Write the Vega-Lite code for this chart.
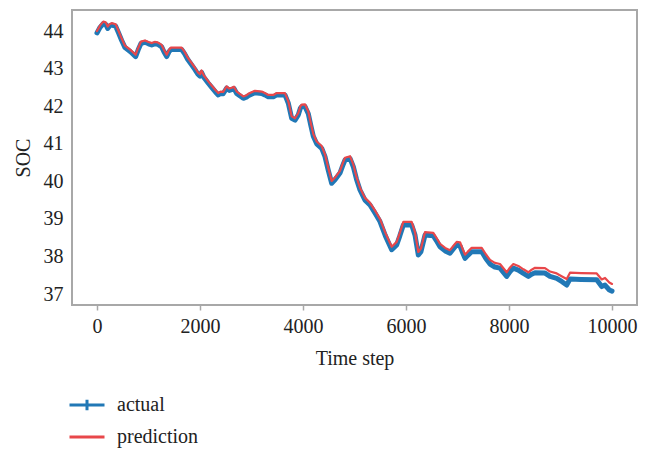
{
  "$schema": "https://vega.github.io/schema/vega-lite/v6.json",
  "width": 565,
  "height": 295,
  "autosize": {"type": "none"},
  "padding": {"left": 72, "top": 10, "right": 9, "bottom": 146},
  "background": "white",
  "config": {
    "view": {"stroke": "#a8a8a8", "strokeWidth": 2},
    "font": "Liberation Serif",
    "axis": {"labelFont": "Liberation Serif", "titleFont": "Liberation Serif", "labelColor": "#222", "titleColor": "#222", "labelFontSize": 20, "titleFontSize": 20, "titleFontWeight": "normal", "grid": false, "domain": false}
  },
  "data": {"values": [
    {"t":0,"actual":43.95,"prediction":44.0},
    {"t":60,"actual":44.1,"prediction":44.15},
    {"t":122,"actual":44.2,"prediction":44.25},
    {"t":170,"actual":44.18,"prediction":44.23},
    {"t":208,"actual":44.07,"prediction":44.12},
    {"t":250,"actual":44.14,"prediction":44.19},
    {"t":285,"actual":44.16,"prediction":44.21},
    {"t":363,"actual":44.13,"prediction":44.18},
    {"t":420,"actual":43.95,"prediction":44.0},
    {"t":480,"actual":43.75,"prediction":43.8},
    {"t":544,"actual":43.56,"prediction":43.61},
    {"t":650,"actual":43.45,"prediction":43.5},
    {"t":751,"actual":43.32,"prediction":43.37},
    {"t":800,"actual":43.5,"prediction":43.55},
    {"t":854,"actual":43.67,"prediction":43.72},
    {"t":932,"actual":43.7,"prediction":43.75},
    {"t":1000,"actual":43.66,"prediction":43.71},
    {"t":1062,"actual":43.63,"prediction":43.68},
    {"t":1120,"actual":43.66,"prediction":43.71},
    {"t":1178,"actual":43.65,"prediction":43.7},
    {"t":1256,"actual":43.58,"prediction":43.63},
    {"t":1300,"actual":43.45,"prediction":43.5},
    {"t":1353,"actual":43.32,"prediction":43.37},
    {"t":1400,"actual":43.45,"prediction":43.5},
    {"t":1437,"actual":43.51,"prediction":43.56},
    {"t":1644,"actual":43.51,"prediction":43.56},
    {"t":1700,"actual":43.4,"prediction":43.45},
    {"t":1760,"actual":43.25,"prediction":43.3},
    {"t":1838,"actual":43.1,"prediction":43.15},
    {"t":1900,"actual":42.98,"prediction":43.03},
    {"t":1960,"actual":42.85,"prediction":42.9},
    {"t":2000,"actual":42.8,"prediction":42.85},
    {"t":2030,"actual":42.9,"prediction":42.95},
    {"t":2070,"actual":42.78,"prediction":42.83},
    {"t":2162,"actual":42.61,"prediction":42.66},
    {"t":2227,"actual":42.5,"prediction":42.55},
    {"t":2300,"actual":42.38,"prediction":42.43},
    {"t":2355,"actual":42.3,"prediction":42.35},
    {"t":2400,"actual":42.34,"prediction":42.39},
    {"t":2450,"actual":42.33,"prediction":42.38},
    {"t":2518,"actual":42.48,"prediction":42.53},
    {"t":2570,"actual":42.42,"prediction":42.47},
    {"t":2615,"actual":42.44,"prediction":42.49},
    {"t":2660,"actual":42.47,"prediction":42.52},
    {"t":2713,"actual":42.34,"prediction":42.39},
    {"t":2780,"actual":42.27,"prediction":42.32},
    {"t":2841,"actual":42.21,"prediction":42.26},
    {"t":2900,"actual":42.24,"prediction":42.29},
    {"t":2938,"actual":42.28,"prediction":42.33},
    {"t":3000,"actual":42.32,"prediction":42.37},
    {"t":3068,"actual":42.36,"prediction":42.41},
    {"t":3198,"actual":42.34,"prediction":42.39},
    {"t":3260,"actual":42.3,"prediction":42.35},
    {"t":3326,"actual":42.25,"prediction":42.3},
    {"t":3424,"actual":42.25,"prediction":42.3},
    {"t":3489,"actual":42.3,"prediction":42.35},
    {"t":3650,"actual":42.3,"prediction":42.35},
    {"t":3715,"actual":42.08,"prediction":42.13},
    {"t":3780,"actual":41.68,"prediction":41.73},
    {"t":3845,"actual":41.63,"prediction":41.68},
    {"t":3909,"actual":41.77,"prediction":41.82},
    {"t":3950,"actual":41.95,"prediction":42.0},
    {"t":3975,"actual":41.99,"prediction":42.04},
    {"t":4039,"actual":41.99,"prediction":42.05},
    {"t":4103,"actual":41.8,"prediction":41.86},
    {"t":4150,"actual":41.5,"prediction":41.56},
    {"t":4200,"actual":41.2,"prediction":41.26},
    {"t":4266,"actual":41.0,"prediction":41.06},
    {"t":4363,"actual":40.88,"prediction":40.94},
    {"t":4427,"actual":40.66,"prediction":40.72},
    {"t":4490,"actual":40.3,"prediction":40.36},
    {"t":4557,"actual":39.95,"prediction":40.01},
    {"t":4621,"actual":40.04,"prediction":40.1},
    {"t":4718,"actual":40.22,"prediction":40.28},
    {"t":4780,"actual":40.45,"prediction":40.51},
    {"t":4816,"actual":40.57,"prediction":40.63},
    {"t":4913,"actual":40.61,"prediction":40.67},
    {"t":4977,"actual":40.39,"prediction":40.45},
    {"t":5040,"actual":40.05,"prediction":40.11},
    {"t":5107,"actual":39.77,"prediction":39.83},
    {"t":5204,"actual":39.5,"prediction":39.56},
    {"t":5301,"actual":39.37,"prediction":39.43},
    {"t":5400,"actual":39.15,"prediction":39.22},
    {"t":5495,"actual":38.93,"prediction":39.0},
    {"t":5600,"actual":38.55,"prediction":38.63},
    {"t":5722,"actual":38.18,"prediction":38.26},
    {"t":5819,"actual":38.31,"prediction":38.39},
    {"t":5880,"actual":38.55,"prediction":38.63},
    {"t":5948,"actual":38.84,"prediction":38.92},
    {"t":6110,"actual":38.84,"prediction":38.92},
    {"t":6175,"actual":38.57,"prediction":38.65},
    {"t":6239,"actual":38.04,"prediction":38.12},
    {"t":6290,"actual":38.13,"prediction":38.21},
    {"t":6369,"actual":38.57,"prediction":38.65},
    {"t":6530,"actual":38.55,"prediction":38.63},
    {"t":6600,"actual":38.4,"prediction":38.48},
    {"t":6660,"actual":38.26,"prediction":38.34},
    {"t":6760,"actual":38.15,"prediction":38.23},
    {"t":6854,"actual":38.09,"prediction":38.17},
    {"t":6930,"actual":38.22,"prediction":38.3},
    {"t":6984,"actual":38.31,"prediction":38.39},
    {"t":7049,"actual":38.28,"prediction":38.38},
    {"t":7100,"actual":38.1,"prediction":38.2},
    {"t":7146,"actual":37.95,"prediction":38.05},
    {"t":7200,"actual":38.03,"prediction":38.13},
    {"t":7275,"actual":38.13,"prediction":38.23},
    {"t":7470,"actual":38.13,"prediction":38.23},
    {"t":7550,"actual":37.95,"prediction":38.06},
    {"t":7631,"actual":37.8,"prediction":37.91},
    {"t":7725,"actual":37.72,"prediction":37.83},
    {"t":7825,"actual":37.69,"prediction":37.8},
    {"t":7955,"actual":37.47,"prediction":37.58},
    {"t":8020,"actual":37.6,"prediction":37.71},
    {"t":8084,"actual":37.69,"prediction":37.8},
    {"t":8181,"actual":37.64,"prediction":37.75},
    {"t":8280,"actual":37.55,"prediction":37.66},
    {"t":8375,"actual":37.47,"prediction":37.58},
    {"t":8440,"actual":37.53,"prediction":37.65},
    {"t":8505,"actual":37.57,"prediction":37.7},
    {"t":8699,"actual":37.56,"prediction":37.69},
    {"t":8796,"actual":37.47,"prediction":37.6},
    {"t":8926,"actual":37.42,"prediction":37.55},
    {"t":9030,"actual":37.33,"prediction":37.47},
    {"t":9120,"actual":37.24,"prediction":37.4},
    {"t":9184,"actual":37.4,"prediction":37.57},
    {"t":9400,"actual":37.39,"prediction":37.56},
    {"t":9703,"actual":37.38,"prediction":37.55},
    {"t":9800,"actual":37.2,"prediction":37.39},
    {"t":9864,"actual":37.24,"prediction":37.43},
    {"t":9948,"actual":37.11,"prediction":37.31},
    {"t":10000,"actual":37.08,"prediction":37.27}
  ]},
  "transform": [{"fold": ["actual", "prediction"], "as": ["series", "soc"]}],
  "encoding": {
    "x": {"field": "t", "type": "quantitative", "title": "Time step",
      "scale": {"domain": [-485, 10485], "nice": false, "zero": false},
      "axis": {"values": [0, 2000, 4000, 6000, 8000, 10000], "format": "d", "ticks": true, "tickSize": 5, "tickColor": "#a8a8a8", "tickWidth": 1.5, "labelPadding": 6, "titlePadding": 12}},
    "y": {"field": "soc", "type": "quantitative", "title": "SOC",
      "scale": {"domain": [36.71, 44.56], "nice": false, "zero": false},
      "axis": {"values": [37, 38, 39, 40, 41, 42, 43, 44], "ticks": false, "labelPadding": 9, "titlePadding": 10}},
    "color": {"field": "series", "type": "nominal", "title": null,
      "scale": {"domain": ["actual", "prediction"], "range": ["#2178b6", "#e8474a"]},
      "legend": {"orient": "none", "legendX": -4, "legendY": 376, "direction": "vertical",
        "labelFont": "Liberation Serif", "labelFontSize": 20, "labelColor": "#222", "labelOffset": 11,
        "symbolSize": 1225, "symbolStrokeWidth": 3, "rowPadding": 1, "padding": 0,
        "encode": {"symbols": {"update": {"strokeWidth": {"value": 3}, "shape": {"signal": "datum.value === 'actual' ? 'M-1,0L1,0M0,-0.3L0,0.3' : 'M-1,0L1,0'"}}}}}}
  },
  "layer": [
    {"transform": [{"filter": "datum.series === 'actual'"}],
     "mark": {"type": "line", "clip": true, "strokeJoin": "round", "strokeCap": "round", "strokeWidth": 5}},
    {"transform": [{"filter": "datum.series === 'prediction'"}],
     "mark": {"type": "line", "clip": true, "strokeJoin": "round", "strokeCap": "round", "strokeWidth": 2.2}}
  ]
}
